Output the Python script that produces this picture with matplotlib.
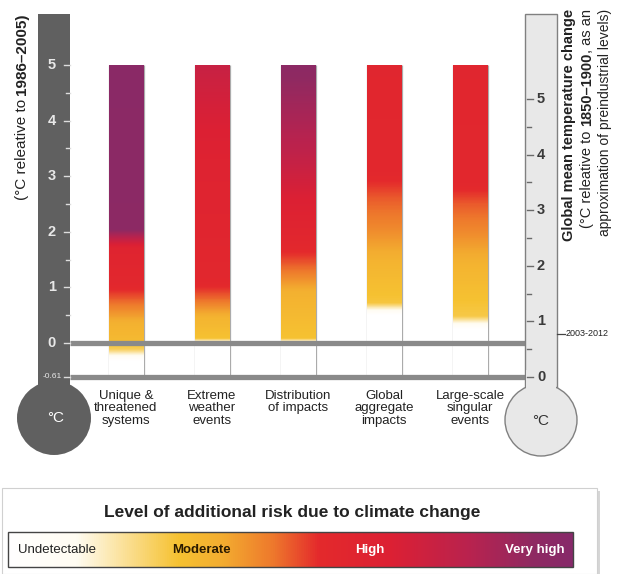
import matplotlib.pyplot as plt
import numpy as np
from matplotlib.colors import LinearSegmentedColormap
from matplotlib.patches import Rectangle, Ellipse

plt.rcParams['font.family'] = ['Liberation Sans Narrow', 'Liberation Sans', 'DejaVu Sans']

# categories (reasons for concern)
categories = ['Unique &\nthreatened\nsystems', 'Extreme\nweather\nevents',
              'Distribution\nof impacts', 'Global\naggregate\nimpacts',
              'Large-scale\nsingular\nevents']

# risk transitions: temperature (°C rel. 1986-2005) -> risk level (0..1)
temp_unique = [-0.32, -0.12, 0.05, 0.35, 0.7, 1.05, 1.7, 2.05, 5.0]
risk_unique = [0.0, 0.26, 0.33, 0.36, 0.47, 0.58, 0.62, 0.95, 0.97]
temp_extreme = [-0.02, 0.08, 0.45, 0.75, 1.1, 3.3, 5.0]
risk_extreme = [0.0, 0.3, 0.35, 0.47, 0.58, 0.64, 0.76]
temp_distrib = [-0.02, 0.08, 0.9, 1.3, 1.75, 2.3, 3.5, 5.0]
risk_distrib = [0.0, 0.3, 0.36, 0.47, 0.58, 0.64, 0.8, 0.95]
temp_global = [0.5, 0.72, 1.45, 2.05, 2.6, 3.1, 5.0]
risk_global = [0.0, 0.29, 0.35, 0.44, 0.5, 0.58, 0.6]
temp_singular = [0.25, 0.48, 1.4, 2.0, 2.5, 2.9, 5.0]
risk_singular = [0.0, 0.28, 0.35, 0.44, 0.5, 0.58, 0.6]

left_ticks = [0, 1, 2, 3, 4, 5]
right_ticks = [0, 1, 2, 3, 4, 5]
offset = 0.61        # 1986-2005 relative to 1850-1900
recent = 0.78        # 2003-2012 relative to 1850-1900
legend_labels = ['Undetectable', 'Moderate', 'High', 'Very high']

risk_cmap = LinearSegmentedColormap.from_list('risk', [
    (0.0, '#ffffff'), (0.12, '#fffcf2'), (0.30, '#f6c232'), (0.38, '#f3ac30'),
    (0.47, '#ee782c'), (0.55, '#e42a2c'), (0.68, '#dc2034'), (0.82, '#b8234f'),
    (0.93, '#8f2a62'), (1.0, '#87296a')])

fig = plt.figure(figsize=(6.29, 5.74), dpi=100)
ax = fig.add_axes([0, 0, 1, 1])
ax.axis('off')

# x in pixels, y in degrees; 0 °C sits at 343 px, 55.6 px per degree
Y0, PPD = 343, 55.6
def T(ypx):
    return (Y0 - ypx) / PPD

# bars
bars = [(temp_unique, risk_unique), (temp_extreme, risk_extreme),
        (temp_distrib, risk_distrib), (temp_global, risk_global),
        (temp_singular, risk_singular)]
x0, dx, w = 126, 86, 35
grid = np.linspace(-offset, 5, 400)
for i, (tt, rr) in enumerate(bars):
    xc = x0 + dx * i
    col = risk_cmap(np.interp(grid, tt, rr))[:, None, :]
    ax.imshow(col, extent=(xc - w / 2, xc + w / 2, -offset, 5), origin='lower',
              aspect='auto', interpolation='bilinear', zorder=2)
    ax.vlines([xc - w / 2, xc + w / 2], -offset, 5, color='#ababab', lw=0.9, zorder=1)
    ax.text(xc, T(390), categories[i], ha='center', va='top', fontsize=9.5,
            linespacing=1.05, color='#222222')

# baselines
ax.hlines([0, -offset], 70, 525, color='#8a8a8a', lw=3.8, zorder=3)

# left thermometer
ax.add_patch(Rectangle((38, T(418)), 32, T(14) - T(418), fc='#606060', ec='none', zorder=4))
ax.add_patch(Ellipse((54, T(418)), 74, 74 / PPD, fc='#606060', ec='none', zorder=4))
ax.text(56, T(418), '°C', color='white', fontsize=11, ha='center', va='center', zorder=5)
for k in left_ticks:
    ax.text(52, k, str(k), color='#e8e8e8', fontsize=10.5, fontweight='bold',
            ha='center', va='center', zorder=5)
    ax.plot([64, 70], [k, k], color='#dddddd', lw=1, zorder=5)
for k in left_ticks[:-1]:
    ax.plot([66, 70], [k + 0.5, k + 0.5], color='#dddddd', lw=1, zorder=5)
ax.text(52, -offset, '-0.61', color='#e8e8e8', fontsize=6, ha='center', va='center', zorder=5)
ax.plot([64, 70], [-offset, -offset], color='#dddddd', lw=1, zorder=5)

# right thermometer
ax.add_patch(Rectangle((525, T(420)), 32, T(14) - T(420), fc='#e8e8e8', ec='#808080', lw=1, zorder=4))
ax.add_patch(Ellipse((541, T(420)), 72, 72 / PPD, fc='#e8e8e8', ec='#808080', lw=1, zorder=4))
ax.add_patch(Rectangle((525.6, T(405)), 30.8, T(370) - T(405), fc='#e8e8e8', ec='none', zorder=4))
ax.text(541, T(421), '°C', color='#333333', fontsize=11, ha='center', va='center', zorder=5)
for k in right_ticks:
    ax.text(541, k - offset, str(k), color='#3a3a3a', fontsize=10.5, fontweight='bold',
            ha='center', va='center', zorder=5)
    ax.plot([527, 533], [k - offset, k - offset], color='#6a6a6a', lw=1, zorder=5)
for k in right_ticks[:-1]:
    ax.plot([527, 531], [k + 0.5 - offset] * 2, color='#6a6a6a', lw=1, zorder=5)
ax.plot([557, 565], [recent - offset] * 2, color='#444444', lw=0.9, zorder=5)
ax.text(566, recent - offset, '2003-2012', fontsize=6.5, ha='left', va='center', color='#222222')

# axis titles (rotated, mixed weight)
fig.canvas.draw()
rend = fig.canvas.get_renderer()
def vtext(x, ypx, parts, size, top=False):
    y = T(ypx)
    pieces = []
    for s, wt in parts:
        t = ax.text(x, y, s, rotation=90, ha='center', va='bottom', fontsize=size,
                    fontweight=wt, color='#222222')
        h = t.get_window_extent(rend).height / PPD
        pieces.append((t, y))
        y += h
    if top:
        shift = y - T(ypx)
        for t, yy in pieces:
            t.set_y(yy - shift)

vtext(22, 200, [('(°C releative to ', 'normal'), ('1986–2005)', 'bold')], 11)
vtext(569, 9, [('Global mean temperature change', 'bold')], 10.5, top=True)
vtext(587, 9, [('(°C releative to ', 'normal'), ('1850–1900', 'bold'), (', as an', 'normal')], 10.5, top=True)
vtext(605, 9, [('approximation of preindustrial levels)', 'normal')], 10, top=True)

# legend box
ax.add_patch(Rectangle((5, T(577)), 595, T(491) - T(577), fc='#d6d6d6', ec='none', zorder=1))
ax.add_patch(Rectangle((2, T(574)), 595, T(488) - T(574), fc='white', ec='#d0d0d0', lw=0.8, zorder=1))
ax.text(292, T(512), 'Level of additional risk due to climate change', fontsize=12.5,
        fontweight='bold', ha='center', va='center', color='#222222')
cb_l, cb_r = 8, 573
ax.imshow(np.linspace(0, 1, 512)[None, :], cmap=risk_cmap, extent=(cb_l, cb_r, T(567), T(532)),
          aspect='auto', zorder=2)
ax.add_patch(Rectangle((cb_l, T(567)), cb_r - cb_l, T(532) - T(567), fc='none',
                       ec='#444444', lw=1, zorder=3))
lab_x = [0.018, 0.29, 0.614, 0.985]
lab_ha = ['left', 'left', 'left', 'right']
lab_col = ['#222222', '#2a1a00', 'white', 'white']
for s, fx, ha, c in zip(legend_labels, lab_x, lab_ha, lab_col):
    ax.text(cb_l + fx * (cb_r - cb_l), T(550), s, ha=ha, va='center', fontsize=9.5,
            color=c, fontweight='bold' if s != 'Undetectable' else 'normal', zorder=4)

ax.set_xlim(0, 629)
ax.set_ylim(T(574), T(0))

fig.savefig('out.png', dpi=100)
